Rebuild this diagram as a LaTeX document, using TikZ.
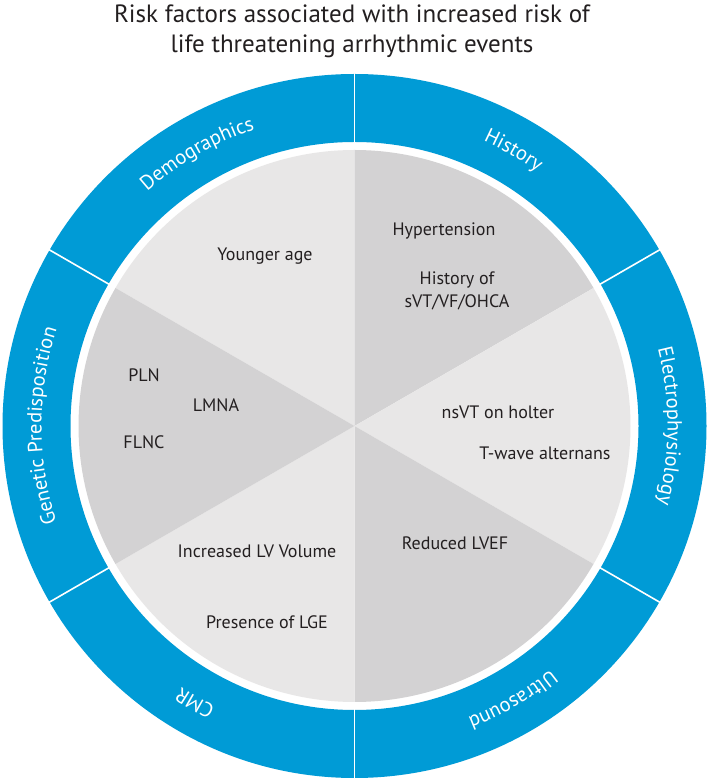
\documentclass[tikz,border=0pt]{standalone}
\usepackage{fontspec}
\setmainfont{PT Sans}
\usetikzlibrary{calc,decorations.text}
\definecolor{ringblue}{HTML}{009BD6}
\definecolor{lightsec}{HTML}{E8E7E7}
\definecolor{darksec}{HTML}{D3D2D3}
\definecolor{ink}{HTML}{231F20}
\newcommand{\ringfont}{\fontsize{20.5}{22}\selectfont}
\newcommand{\itemfont}{\fontsize{18}{22.5}\selectfont}
\begin{document}
\begin{tikzpicture}[x=1pt,y=1pt,
  item/.style={text=ink, font=\itemfont, inner sep=0pt, align=center},
  titletext/.style={text=ink, font=\fontsize{25}{30}\selectfont, inner sep=0pt, align=center},
  sep/.style={white, line width=1.6pt},
  ringlabel/.style={decorate, decoration={text along path, text align=center, text color=white, text={|\ringfont|#1}}}
]
\useasboundingbox (0,0) rectangle (709,782);
\fill[white] (0,0) rectangle (709,782);
\coordinate (c) at (354.5,356);
% title
\node[titletext] (title) at (352,751) {Risk factors associated with increased risk of\\life threatening arrhythmic events};
% outer ring
\fill[ringblue, even odd rule] (c) circle[radius=352] (c) circle[radius=284];
\foreach \a in {30,90,150,210,270,330}
  \draw[sep] ($(c)+(\a:283)$) -- ($(c)+(\a:353)$);
% pie sectors
\fill[lightsec] (c) -- ($(c)+(90:276)$) arc[start angle=90, end angle=150, radius=276] -- cycle;
\fill[darksec]  (c) -- ($(c)+(30:276)$) arc[start angle=30, end angle=90, radius=276] -- cycle;
\fill[lightsec] (c) -- ($(c)+(-30:276)$) arc[start angle=-30, end angle=30, radius=276] -- cycle;
\fill[darksec]  (c) -- ($(c)+(-90:276)$) arc[start angle=-90, end angle=-30, radius=276] -- cycle;
\fill[lightsec] (c) -- ($(c)+(210:276)$) arc[start angle=210, end angle=270, radius=276] -- cycle;
\fill[darksec]  (c) -- ($(c)+(150:276)$) arc[start angle=150, end angle=210, radius=276] -- cycle;
% ring labels
\path[ringlabel={Demographics}] ($(c)+(150:313)$) arc[start angle=150, end angle=90, radius=313];
\path[ringlabel={History}] ($(c)+(90:313)$) arc[start angle=90, end angle=30, radius=313];
\path[ringlabel={Electrophysiology}] ($(c)+(30:313)$) arc[start angle=30, end angle=-30, radius=313];
\path[ringlabel={Ultrasound}] ($(c)+(-30:313)$) arc[start angle=-30, end angle=-90, radius=313];
\path[ringlabel={CMR}] ($(c)+(-90:313)$) arc[start angle=-90, end angle=-150, radius=313];
\path[ringlabel={Genetic Predisposition}] ($(c)+(210:313)$) arc[start angle=210, end angle=150, radius=313];
% items
\node[item] (young) at (265,526) {Younger age};
\node[item] (hyper) at (444,551) {Hypertension};
\node[item] (hist) at (457,491) {History of\\sVT/VF/OHCA};
\node[item] (pln) at (144,407) {PLN};
\node[item] (lmna) at (216,377) {LMNA};
\node[item] (flnc) at (144,340) {FLNC};
\node[item] (lvvol) at (257,231) {Increased LV Volume};
\node[item] (lge) at (267,160) {Presence of LGE};
\node[item] (nsvt) at (498,370) {nsVT on holter};
\node[item] (twave) at (545,329) {T-wave alternans};
\node[item] (lvef) at (455,239) {Reduced LVEF};
\end{tikzpicture}
\end{document}
